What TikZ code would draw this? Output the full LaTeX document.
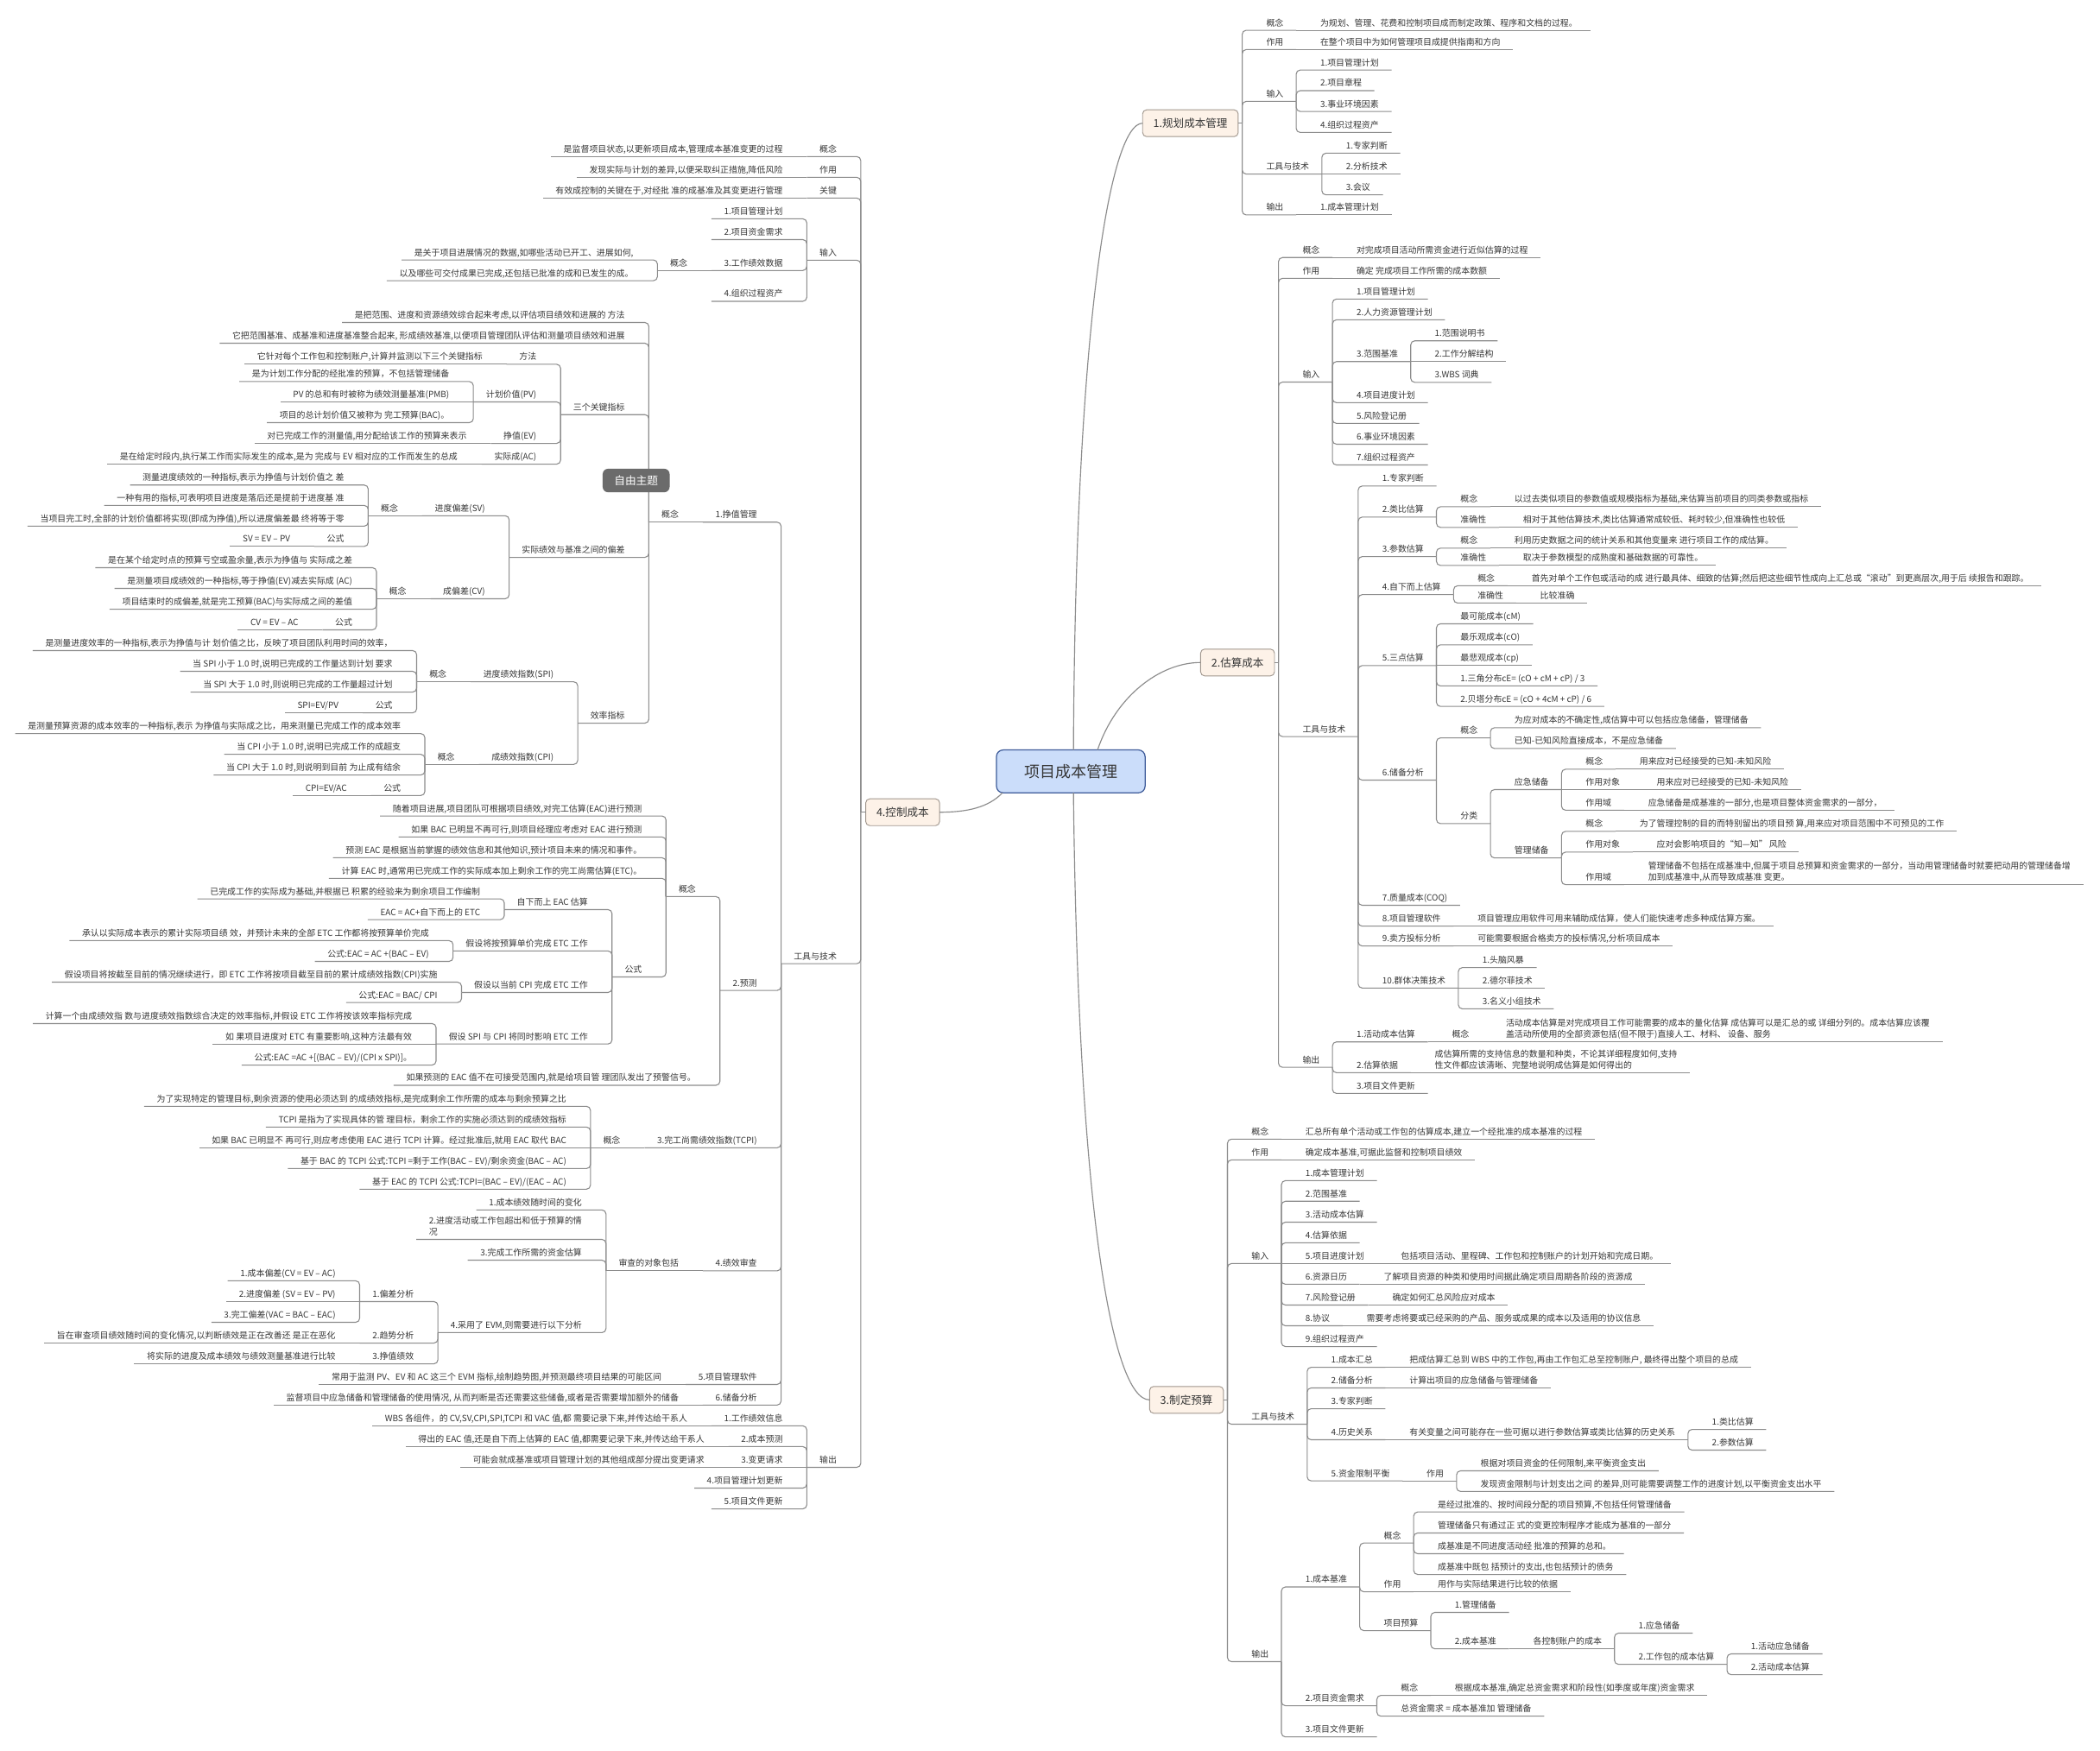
\documentclass[tikz,border=0pt]{standalone}
\usepackage{fontspec}
\setmainfont{Noto Sans CJK SC}
\definecolor{lc}{HTML}{8C8C8C}
\definecolor{tc}{HTML}{363636}
\definecolor{bx}{HTML}{A0968D}
\definecolor{bf}{HTML}{FDF2E8}
\definecolor{cx}{HTML}{3F5C9A}
\definecolor{cf}{HTML}{CBDDFA}
\definecolor{fx}{HTML}{6B6B6B}
\tikzset{
  tn/.style={inner xsep=0pt, inner ysep=2.25pt, outer sep=0pt, text height=5.5pt, text depth=1pt, font=\fontsize{6.4pt}{8.2pt}\selectfont, text=tc},
  tnm/.style={inner xsep=0pt, inner ysep=2.25pt, outer sep=0pt, text depth=1pt, font=\fontsize{6.4pt}{8.2pt}\selectfont, text=tc},
  cn/.style={draw=lc, line width=0.7pt, rounded corners=3pt},
  cv/.style={draw=lc, line width=0.75pt},
  mainbox/.style={draw=bx, fill=bf, rounded corners=3pt, line width=0.6pt, font=\fontsize{8.1pt}{10pt}\selectfont, text=tc, inner xsep=8pt, inner ysep=0pt, minimum height=20pt, outer sep=0pt},
  rootbox/.style={draw=cx, fill=cf, rounded corners=5pt, line width=0.8pt, font=\fontsize{11.6pt}{14pt}\selectfont, text=tc, inner sep=0pt, minimum width=111pt, minimum height=32pt, outer sep=0pt},
  freebox/.style={fill=fx, rounded corners=4pt, font=\fontsize{8.2pt}{10pt}\selectfont, text=white, inner sep=0pt, minimum width=50pt, minimum height=17.5pt},
  busn/.style={inner sep=0pt, outer sep=0pt, minimum size=0pt}
}
\newcommand\nodeR[5][tn]{%
  \coordinate (tmp) at (0,#4);%
  \node[#1,anchor=south west] (#2) at (#3.south east|-tmp) {\hspace*{18pt}#5\hspace*{9.5pt}};%
  \expandafter\xdef\csname nodey#2\endcsname{#4}%
  \ifdim\csname nodey#3\endcsname pt=#4pt\relax
    \draw[cn] (#3.south east) -- (#2.south east);%
  \else
    \draw[cn] (#3.south east) |- (#2.south east);%
  \fi}
\newcommand\nodeL[5][tn]{%
  \coordinate (tmp) at (0,#4);%
  \node[#1,anchor=south east] (#2) at (#3.south west|-tmp) {\hspace*{9.5pt}#5\hspace*{18pt}};%
  \expandafter\xdef\csname nodey#2\endcsname{#4}%
  \ifdim\csname nodey#3\endcsname pt=#4pt\relax
    \draw[cn] (#3.south west) -- (#2.south west);%
  \else
    \draw[cn] (#3.south west) |- (#2.south west);%
  \fi}
\begin{document}
\begin{tikzpicture}[x=1pt,y=-1pt]
\fill[white] (0,0) rectangle (1568,1307);
\useasboundingbox (0,0) rectangle (1568,1307);
% root and main branches
\node[rootbox] (C) at (799.5,576) {项目成本管理};
\node[mainbox,anchor=east] (B1) at (924.5,92) {1.规划成本管理};
\node[mainbox,anchor=east] (B2) at (951.6,494.7) {2.估算成本};
\node[mainbox,anchor=east] (B3) at (913.5,1045.3) {3.制定预算};
\node[mainbox,anchor=west] (B4) at (646.4,606.5) {4.控制成本};
\draw[cv] ([xshift=2pt]C.north) .. controls (803,250) and (828,92) .. (B1.west);
\draw[cv] ([xshift=20pt]C.north) .. controls (833,520) and (866,494.7) .. (B2.west);
\draw[cv] ([xshift=2pt]C.south) .. controls (805,900) and (830,1045.3) .. (B3.west);
\draw[cv] ([xshift=-51pt]C.south) .. controls (738,603) and (722,606.5) .. (B4.east);
% bus points
\node[busn] (B1b) at ([xshift=3pt]B1.east) {};
\expandafter\xdef\csname nodeyB1b\endcsname{92}
\draw[cn] (B1.east) -- (B1b.center);
\node[busn] (B2b) at ([xshift=3pt]B2.east) {};
\expandafter\xdef\csname nodeyB2b\endcsname{494.7}
\draw[cn] (B2.east) -- (B2b.center);
\node[busn] (B3b) at ([xshift=3pt]B3.east) {};
\expandafter\xdef\csname nodeyB3b\endcsname{1045.3}
\draw[cn] (B3.east) -- (B3b.center);
\node[busn] (B4b) at ([xshift=-3.7pt]B4.west) {};
\expandafter\xdef\csname nodeyB4b\endcsname{606.5}
\draw[cn] (B4.west) -- (B4b.center);
% ===== 1.规划成本管理
\nodeR{a1}{B1b}{22.6}{概念}
\nodeR{a1t}{a1}{22.6}{为规划、管理、花费和控制项目成而制定政策、程序和文档的过程。}
\nodeR{a2}{B1b}{37}{作用}
\nodeR{a2t}{a2}{37}{在整个项目中为如何管理项目成提供指南和方向}
\nodeR{a3}{B1b}{75.7}{输入}
\nodeR{a31}{a3}{52.3}{1.项目管理计划}
\nodeR{a32}{a3}{67.7}{2.项目章程}
\nodeR{a33}{a3}{83.2}{3.事业环境因素}
\nodeR{a34}{a3}{98.9}{4.组织过程资产}
\nodeR{a4}{B1b}{130}{工具与技术}
\nodeR{a41}{a4}{114.4}{1.专家判断}
\nodeR{a42}{a4}{130}{2.分析技术}
\nodeR{a43}{a4}{145.5}{3.会议}
\nodeR{a5}{B1b}{160.5}{输出}
\nodeR{a51}{a5}{160.5}{1.成本管理计划}
% ===== 2.估算成本
\nodeR{b1}{B2b}{192.3}{概念}
\nodeR{b1t}{b1}{192.3}{对完成项目活动所需资金进行近似估算的过程}
\nodeR{b2}{B2b}{207.8}{作用}
\nodeR{b2t}{b2}{207.8}{确定 完成项目工作所需的成本数额}
\nodeR{b3}{B2b}{285.3}{输入}
\nodeR{b31}{b3}{223.3}{1.项目管理计划}
\nodeR{b32}{b3}{238.8}{2.人力资源管理计划}
\nodeR{b33}{b3}{270}{3.范围基准}
\nodeR{b331}{b33}{254.5}{1.范围说明书}
\nodeR{b332}{b33}{270}{2.工作分解结构}
\nodeR{b333}{b33}{285.5}{3.WBS 词典}
\nodeR{b34}{b3}{300.7}{4.项目进度计划}
\nodeR{b35}{b3}{316.2}{5.风险登记册}
\nodeR{b36}{b3}{331.7}{6.事业环境因素}
\nodeR{b37}{b3}{347.2}{7.组织过程资产}
\nodeR{b4}{B2b}{550}{工具与技术}
\nodeR{b41}{b4}{362.9}{1.专家判断}
\nodeR{b42}{b4}{386.1}{2.类比估算}
\nodeR{b421}{b42}{378.4}{概念}
\nodeR{b421t}{b421}{378.4}{以过去类似项目的参数值或规模指标为基础,来估算当前项目的同类参数或指标}
\nodeR{b422}{b42}{393.8}{准确性}
\nodeR{b422t}{b422}{393.8}{相对于其他估算技术,类比估算通常成较低、耗时较少,但准确性也较低}
\nodeR{b43}{b4}{415.6}{3.参数估算}
\nodeR{b431}{b43}{409.3}{概念}
\nodeR{b431t}{b431}{409.3}{利用历史数据之间的统计关系和其他变量来 进行项目工作的成估算。}
\nodeR{b432}{b43}{422.2}{准确性}
\nodeR{b432t}{b432}{422.2}{取决于参数模型的成熟度和基础数据的可靠性。}
\nodeR{b44}{b4}{444}{4.自下而上估算}
\nodeR{b441}{b44}{437.4}{概念}
\nodeR{b441t}{b441}{437.4}{首先对单个工作包或活动的成 进行最具体、细致的估算;然后把这些细节性成向上汇总或“滚动”到更高层次,用于后 续报告和跟踪。}
\nodeR{b442}{b44}{450.3}{准确性}
\nodeR{b442t}{b442}{450.3}{比较准确}
\nodeR{b45}{b4}{497}{5.三点估算}
\nodeR{b451}{b45}{465.8}{最可能成本(cM)}
\nodeR{b452}{b45}{481.5}{最乐观成本(cO)}
\nodeR{b453}{b45}{497}{最悲观成本(cp)}
\nodeR{b454}{b45}{512.2}{1.三角分布cE= (cO + cM + cP) / 3}
\nodeR{b455}{b45}{527.5}{2.贝塔分布cE = (cO + 4cM + cP) / 6}
\nodeR{b46}{b4}{582.5}{6.储备分析}
\nodeR{b461}{b46}{551}{概念}
\nodeR{b4611}{b461}{543.4}{为应对成本的不确定性,成估算中可以包括应急储备，管理储备}
\nodeR{b4612}{b461}{558.9}{已知-已知风险直接成本，不是应急储备}
\nodeR{b462}{b46}{615}{分类}
\nodeR{b4621}{b462}{589.6}{应急储备}
\nodeR{b46211}{b4621}{574.4}{概念}
\nodeR{b46211t}{b46211}{574.4}{用来应对已经接受的已知-未知风险}
\nodeR{b46212}{b4621}{589.6}{作用对象}
\nodeR{b46212t}{b46212}{589.6}{用来应对已经接受的已知-未知风险}
\nodeR{b46213}{b4621}{605}{作用域}
\nodeR{b46213t}{b46213}{605}{应急储备是成基准的一部分,也是项目整体资金需求的一部分，}
\nodeR{b4622}{b462}{640.6}{管理储备}
\nodeR{b46221}{b4622}{620.8}{概念}
\nodeR{b46221t}{b46221}{620.8}{为了管理控制的目的而特别留出的项目预 算,用来应对项目范围中不可预见的工作}
\nodeR{b46222}{b4622}{636.3}{作用对象}
\nodeR{b46222t}{b46222}{636.3}{应对会影响项目的“知—知” 风险}
\nodeR{b46223}{b4622}{660.6}{作用域}
\nodeR[tnm]{b46223t}{b46223}{660.6}{\begin{tabular}[b]{@{}l@{}}管理储备不包括在成基准中,但属于项目总预算和资金需求的一部分，当动用管理储备时就要把动用的管理储备增\\加到成基准中,从而导致成基准 变更。\end{tabular}}
\nodeR{b47}{b4}{676}{7.质量成本(COQ)}
\nodeR{b48}{b4}{691.6}{8.项目管理软件}
\nodeR{b48t}{b48}{691.6}{项目管理应用软件可用来辅助成估算，使人们能快速考虑多种成估算方案。}
\nodeR{b49}{b4}{706.4}{9.卖方投标分析}
\nodeR{b49t}{b49}{706.4}{可能需要根据合格卖方的投标情况,分析项目成本}
\nodeR{b410}{b4}{737.8}{10.群体决策技术}
\nodeR{b4101}{b410}{722.5}{1.头脑风暴}
\nodeR{b4102}{b410}{737.8}{2.德尔菲技术}
\nodeR{b4103}{b410}{753.3}{3.名义小组技术}
\nodeR{b5}{B2b}{797}{输出}
\nodeR{b51}{b5}{778}{1.活动成本估算}
\nodeR{b511}{b51}{778}{概念}
\nodeR[tnm]{b511t}{b511}{778}{\begin{tabular}[b]{@{}l@{}}活动成本估算是对完成项目工作可能需要的成本的量化估算 成估算可以是汇总的或 详细分列的。成本估算应该覆\\盖活动所使用的全部资源包括(但不限于)直接人工、材料、 设备、服务\end{tabular}}
\nodeR{b52}{b5}{801}{2.估算依据}
\nodeR[tnm]{b52t}{b52}{801}{\begin{tabular}[b]{@{}l@{}}成估算所需的支持信息的数量和种类，不论其详细程度如何,支持\\性文件都应该清晰、完整地说明成估算是如何得出的\end{tabular}}
\nodeR{b53}{b5}{816.5}{3.项目文件更新}
% ===== 3.制定预算
\nodeR{c1}{B3b}{850.6}{概念}
\nodeR{c1t}{c1}{850.6}{汇总所有单个活动或工作包的估算成本,建立一个经批准的成本基准的过程}
\nodeR{c2}{B3b}{866.1}{作用}
\nodeR{c2t}{c2}{866.1}{确定成本基准,可据此监督和控制项目绩效}
\nodeR{c3}{B3b}{943.5}{输入}
\nodeR{c31}{c3}{881.6}{1.成本管理计划}
\nodeR{c32}{c3}{897}{2.范围基准}
\nodeR{c33}{c3}{912.6}{3.活动成本估算}
\nodeR{c34}{c3}{928}{4.估算依据}
\nodeR{c35}{c3}{943.5}{5.项目进度计划}
\nodeR{c35t}{c35}{943.5}{包括项目活动、里程碑、工作包和控制账户的计划开始和完成日期。}
\nodeR{c36}{c3}{959}{6.资源日历}
\nodeR{c36t}{c36}{959}{了解项目资源的种类和使用时间据此确定项目周期各阶段的资源成}
\nodeR{c37}{c3}{974.5}{7.风险登记册}
\nodeR{c37t}{c37}{974.5}{确定如何汇总风险应对成本}
\nodeR{c38}{c3}{990}{8.协议}
\nodeR{c38t}{c38}{990}{需要考虑将要或已经采购的产品、服务或成果的成本以及适用的协议信息}
\nodeR{c39}{c3}{1005.5}{9.组织过程资产}
\nodeR{c4}{B3b}{1063.5}{工具与技术}
\nodeR{c41}{c4}{1021}{1.成本汇总}
\nodeR{c41t}{c41}{1021}{把成估算汇总到 WBS 中的工作包,再由工作包汇总至控制账户, 最终得出整个项目的总成}
\nodeR{c42}{c4}{1036.4}{2.储备分析}
\nodeR{c42t}{c42}{1036.4}{计算出项目的应急储备与管理储备}
\nodeR{c43}{c4}{1051.9}{3.专家判断}
\nodeR{c44}{c4}{1075.1}{4.历史关系}
\nodeR{c44t}{c44}{1075.1}{有关变量之间可能存在一些可据以进行参数估算或类比估算的历史关系}
\nodeR{c441}{c44t}{1067.4}{1.类比估算}
\nodeR{c442}{c44t}{1082.8}{2.参数估算}
\nodeR{c45}{c4}{1105.8}{5.资金限制平衡}
\nodeR{c451}{c45}{1105.8}{作用}
\nodeR{c4511}{c451}{1098.3}{根据对项目资金的任何限制,来平衡资金支出}
\nodeR{c4512}{c451}{1113.7}{发现资金限制与计划支出之间 的差异,则可能需要调整工作的进度计划,以平衡资金支出水平}
\nodeR{c5}{B3b}{1240.8}{输出}
\nodeR{c51}{c5}{1185}{1.成本基准}
\nodeR{c511}{c51}{1152.2}{概念}
\nodeR{c5111}{c511}{1129}{是经过批准的、按时间段分配的项目预算,不包括任何管理储备}
\nodeR{c5112}{c511}{1144.7}{管理储备只有通过正 式的变更控制程序才能成为基准的一部分}
\nodeR{c5113}{c511}{1160.2}{成基准是不同进度活动经 批准的预算的总和。}
\nodeR{c5114}{c511}{1175.7}{成基准中既包 括预计的支出,也包括预计的债务}
\nodeR{c512}{c51}{1188.6}{作用}
\nodeR{c512t}{c512}{1188.6}{用作与实际结果进行比较的依据}
\nodeR{c513}{c51}{1217.6}{项目预算}
\nodeR{c5131}{c513}{1204}{1.管理储备}
\nodeR{c5132}{c513}{1231.2}{2.成本基准}
\nodeR{c5132a}{c5132}{1231.2}{各控制账户的成本}
\nodeR{c51321}{c5132a}{1219.5}{1.应急储备}
\nodeR{c51322}{c5132a}{1242.8}{2.工作包的成本估算}
\nodeR{c513221}{c51322}{1235}{1.活动应急储备}
\nodeR{c513222}{c51322}{1250.5}{2.活动成本估算}
\nodeR{c52}{c5}{1273.7}{2.项目资金需求}
\nodeR{c521}{c52}{1266}{概念}
\nodeR{c521t}{c521}{1266}{根据成本基准,确定总资金需求和阶段性(如季度或年度)资金需求}
\nodeR{c522}{c52}{1281.5}{总资金需求 = 成本基准加 管理储备}
\nodeR{c53}{c5}{1297}{3.项目文件更新}
% ===== 4.控制成本
\nodeL{d1}{B4b}{116.9}{概念}
\nodeL{d1t}{d1}{116.9}{是监督项目状态,以更新项目成本,管理成本基准变更的过程}
\nodeL{d2}{B4b}{132.4}{作用}
\nodeL{d2t}{d2}{132.4}{发现实际与计划的差异,以便采取纠正措施,降低风险}
\nodeL{d3}{B4b}{147.9}{关键}
\nodeL{d3t}{d3}{147.9}{有效成控制的关键在于,对经批 准的成基准及其变更进行管理}
\nodeL{d4}{B4b}{194.3}{输入}
\nodeL{d41}{d4}{163.4}{1.项目管理计划}
\nodeL{d42}{d4}{178.9}{2.项目资金需求}
\nodeL{d43}{d4}{202}{3.工作绩效数据}
\nodeL{d431}{d43}{202}{概念}
\nodeL{d4311}{d431}{194.1}{是关于项目进展情况的数据,如哪些活动已开工、进展如何,}
\nodeL{d4312}{d431}{209.6}{以及哪些可交付成果已完成,还包括已批准的成和已发生的成。}
\nodeL{d44}{d4}{225}{4.组织过程资产}
\nodeL{d5}{B4b}{719.6}{工具与技术}
\nodeL{d51}{d5}{389.9}{1.挣值管理}
\nodeL{d511}{d51}{389.9}{概念}
\nodeL{d5111}{d511}{240.8}{是把范围、进度和资源绩效综合起来考虑,以评估项目绩效和进展的 方法}
\nodeL{d5112}{d511}{256.3}{它把范围基准、成基准和进度基准整合起来, 形成绩效基准,以便项目管理团队评估和测量项目绩效和进展}
\nodeL{d5113}{d511}{309.6}{三个关键指标}
\nodeL{d51131}{d5113}{272}{方法}
\nodeL{d51131t}{d51131}{272}{它针对每个工作包和控制账户,计算并监测以下三个关键指标}
\nodeL{d51132}{d5113}{300.1}{计划价值(PV)}
\nodeL{d511321}{d51132}{284.9}{是为计划工作分配的经批准的预算，不包括管理储备}
\nodeL{d511322}{d51132}{300.1}{PV 的总和有时被称为绩效测量基准(PMB)}
\nodeL{d511323}{d51132}{315.6}{项目的总计划价值又被称为 完工预算(BAC)。}
\nodeL{d51133}{d5113}{331.1}{挣值(EV)}
\nodeL{d51133t}{d51133}{331.1}{对已完成工作的测量值,用分配给该工作的预算来表示}
\nodeL{d51134}{d5113}{346.6}{实际成(AC)}
\nodeL{d51134t}{d51134}{346.6}{是在给定时段内,执行某工作而实际发生的成本,是为 完成与 EV 相对应的工作而发生的总成}
\nodeL{d5114}{d511}{416.2}{实际绩效与基准之间的偏差}
\nodeL{d51141}{d5114}{385.1}{进度偏差(SV)}
\nodeL{d511411}{d51141}{385.1}{概念}
\nodeL{d5114111}{d511411}{362.2}{测量进度绩效的一种指标,表示为挣值与计划价值之 差}
\nodeL{d5114112}{d511411}{377.4}{一种有用的指标,可表明项目进度是落后还是提前于进度基 准}
\nodeL{d5114113}{d511411}{392.9}{当项目完工时,全部的计划价值都将实现(即成为挣值),所以进度偏差最 终将等于零}
\nodeL{d5114114}{d511411}{408}{公式}
\nodeL{d5114114t}{d5114114}{408}{SV = EV – PV}
\nodeL{d51142}{d5114}{447.1}{成偏差(CV)}
\nodeL{d511421}{d51142}{447.1}{概念}
\nodeL{d5114211}{d511421}{423.9}{是在某个给定时点的预算亏空或盈余量,表示为挣值与 实际成之差}
\nodeL{d5114212}{d511421}{439.4}{是测量项目成绩效的一种指标,等于挣值(EV)减去实际成 (AC)}
\nodeL{d5114213}{d511421}{454.9}{项目结束时的成偏差,就是完工预算(BAC)与实际成之间的差值}
\nodeL{d5114214}{d511421}{470.3}{公式}
\nodeL{d5114214t}{d5114214}{470.3}{CV = EV – AC}
\nodeL{d5115}{d511}{540}{效率指标}
\nodeL{d51151}{d5115}{509.1}{进度绩效指数(SPI)}
\nodeL{d511511}{d51151}{509.1}{概念}
\nodeL{d5115111}{d511511}{485.8}{是测量进度效率的一种指标,表示为挣值与计 划价值之比，反映了项目团队利用时间的效率，}
\nodeL{d5115112}{d511511}{501.3}{当 SPI 小于 1.0 时,说明已完成的工作量达到计划 要求}
\nodeL{d5115113}{d511511}{516.8}{当 SPI 大于 1.0 时,则说明已完成的工作量超过计划}
\nodeL{d5115114}{d511511}{532.3}{公式}
\nodeL{d5115114t}{d5115114}{532.3}{SPI=EV/PV}
\nodeL{d51152}{d5115}{570.8}{成绩效指数(CPI)}
\nodeL{d511521}{d51152}{570.8}{概念}
\nodeL{d5115211}{d511521}{547.8}{是测量预算资源的成本效率的一种指标,表示 为挣值与实际成之比，用来测量已完成工作的成本效率}
\nodeL{d5115212}{d511521}{563.3}{当 CPI 小于 1.0 时,说明已完成工作的成超支}
\nodeL{d5115213}{d511521}{578.7}{当 CPI 大于 1.0 时,则说明到目前 为止成有结余}
\nodeL{d5115214}{d511521}{594}{公式}
\nodeL{d5115214t}{d5115214}{594}{CPI=EV/AC}
\nodeL{d52}{d5}{739.6}{2.预测}
\nodeL{d521}{d52}{669.5}{概念}
\nodeL{d5211}{d521}{609.3}{随着项目进展,项目团队可根据项目绩效,对完工估算(EAC)进行预测}
\nodeL{d5212}{d521}{625}{如果 BAC 已明显不再可行,则项目经理应考虑对 EAC 进行预测}
\nodeL{d5213}{d521}{640.5}{预测 EAC 是根据当前掌握的绩效信息和其他知识,预计项目未来的情况和事件。}
\nodeL{d5214}{d521}{655.9}{计算 EAC 时,通常用已完成工作的实际成本加上剩余工作的完工尚需估算(ETC)。}
\nodeL{d5215}{d521}{729.5}{公式}
\nodeL{d52151}{d5215}{679.2}{自下而上 EAC 估算}
\nodeL{d521511}{d52151}{671.2}{已完成工作的实际成为基础,并根据已 积累的经验来为剩余项目工作编制}
\nodeL{d521512}{d52151}{686.7}{EAC = AC+自下而上的 ETC}
\nodeL{d52152}{d5215}{710.1}{假设将按预算单价完成 ETC 工作}
\nodeL{d521521}{d52152}{702.4}{承认以实际成本表示的累计实际项目绩 效，并预计未来的全部 ETC 工作都将按预算单价完成}
\nodeL{d521522}{d52152}{717.9}{公式:EAC = AC +(BAC – EV)}
\nodeL{d52153}{d5215}{741.1}{假设以当前 CPI 完成 ETC 工作}
\nodeL{d521531}{d52153}{733.4}{假设项目将按截至目前的情况继续进行，即 ETC 工作将按项目截至目前的累计成绩效指数(CPI)实施}
\nodeL{d521532}{d52153}{748.6}{公式:EAC = BAC/ CPI}
\nodeL{d52154}{d5215}{779.6}{假设 SPI 与 CPI 将同时影响 ETC 工作}
\nodeL{d521541}{d52154}{764.3}{计算一个由成绩效指 数与进度绩效指数综合决定的效率指标,并假设 ETC 工作将按该效率指标完成}
\nodeL{d521542}{d52154}{779.6}{如 果项目进度对 ETC 有重要影响,这种方法最有效}
\nodeL{d521543}{d52154}{795.3}{公式:EAC =AC +[(BAC – EV)/(CPI x SPI)]。}
\nodeL{d5216}{d52}{810.4}{如果预测的 EAC 值不在可接受范围内,就是给项目管 理团队发出了预警信号。}
\nodeL{d53}{d5}{857.1}{3.完工尚需绩效指数(TCPI)}
\nodeL{d531}{d53}{857.1}{概念}
\nodeL{d5311}{d531}{826.1}{为了实现特定的管理目标,剩余资源的使用必须达到 的成绩效指标,是完成剩余工作所需的成本与剩余预算之比}
\nodeL{d5312}{d531}{841.6}{TCPI 是指为了实现具体的管 理目标，剩余工作的实施必须达到的成绩效指标}
\nodeL{d5313}{d531}{857.1}{如果 BAC 已明显不 再可行,则应考虑使用 EAC 进行 TCPI 计算。经过批准后,就用 EAC 取代 BAC}
\nodeL{d5314}{d531}{872.6}{基于 BAC 的 TCPI 公式:TCPI =剩于工作(BAC – EV)/剩余资金(BAC – AC)}
\nodeL{d5315}{d531}{888}{基于 EAC 的 TCPI 公式:TCPI=(BAC – EV)/(EAC – AC)}
\nodeL{d54}{d5}{949}{4.绩效审查}
\nodeL{d541}{d54}{949}{审查的对象包括}
\nodeL{d5411}{d541}{903.5}{1.成本绩效随时间的变化}
\nodeL[tnm]{d5412}{d541}{925.5}{\begin{tabular}[b]{@{}l@{}}2.进度活动或工作包超出和低于预算的情\\况\end{tabular}}
\nodeL{d5413}{d541}{941}{3.完成工作所需的资金估算}
\nodeL{d5414}{d541}{995.1}{4.采用了 EVM,则需要进行以下分析}
\nodeL{d54141}{d5414}{971.9}{1.偏差分析}
\nodeL{d541411}{d54141}{956.4}{1.成本偏差(CV = EV – AC)}
\nodeL{d541412}{d54141}{971.9}{2.进度偏差 (SV = EV – PV)}
\nodeL{d541413}{d54141}{987.4}{3.完工偏差(VAC = BAC – EAC)}
\nodeL{d54142}{d5414}{1002.9}{2.趋势分析}
\nodeL{d54142t}{d54142}{1002.9}{旨在审查项目绩效随时间的变化情况,以判断绩效是正在改善还 是正在恶化}
\nodeL{d54143}{d5414}{1018.4}{3.挣值绩效}
\nodeL{d54143t}{d54143}{1018.4}{将实际的进度及成本绩效与绩效测量基准进行比较}
\nodeL{d55}{d5}{1033.8}{5.项目管理软件}
\nodeL{d55t}{d55}{1033.8}{常用于监测 PV、EV 和 AC 这三个 EVM 指标,绘制趋势图,并预测最终项目结果的可能区间}
\nodeL{d56}{d5}{1049.2}{6.储备分析}
\nodeL{d56t}{d56}{1049.2}{监督项目中应急储备和管理储备的使用情况, 从而判断是否还需要这些储备,或者是否需要增加额外的储备}
\nodeL{d6}{B4b}{1095.7}{输出}
\nodeL{d61}{d6}{1064.7}{1.工作绩效信息}
\nodeL{d61t}{d61}{1064.7}{WBS 各组件，的 CV,SV,CPI,SPI,TCPI 和 VAC 值,都 需要记录下来,并传达给干系人}
\nodeL{d62}{d6}{1080.2}{2.成本预测}
\nodeL{d62t}{d62}{1080.2}{得出的 EAC 值,还是自下而上估算的 EAC 值,都需要记录下来,并传达给干系人}
\nodeL{d63}{d6}{1095.7}{3.变更请求}
\nodeL{d63t}{d63}{1095.7}{可能会就成基准或项目管理计划的其他组成部分提出变更请求}
\nodeL{d64}{d6}{1111.2}{4.项目管理计划更新}
\nodeL{d65}{d6}{1126.7}{5.项目文件更新}
% floating topic
\node[freebox] (F) at (475,358.8) {自由主题};
\end{tikzpicture}
\end{document}
